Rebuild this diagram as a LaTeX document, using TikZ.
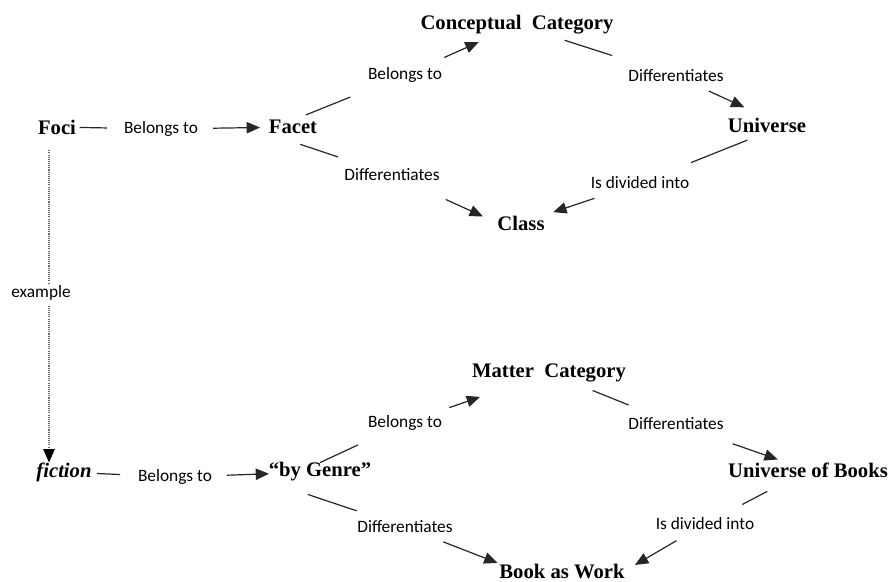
\documentclass[tikz,border=0pt]{standalone}
\usepackage{fontspec}
\setmainfont{Liberation Serif}
\newfontfamily\labfont{Carlito}
\usetikzlibrary{arrows.meta}

\begin{document}
\begin{tikzpicture}[x=0.75pt, y=-0.75pt,
        term/.style={font=\fontsize{15.5}{18}\selectfont\bfseries, inner sep=0pt, outer sep=0pt},
        rel/.style={font=\labfont\fontsize{13}{15}\selectfont, inner sep=0pt, outer sep=0pt},
        link/.style={line width=0.9pt, draw=black!85},
        tip/.style={link, -{Triangle[length=10pt,width=8.5pt]}},
        dots/.style={line width=0.8pt, draw=black!60, dash pattern=on 0.8pt off 0.8pt}]
        \useasboundingbox (0,0) rectangle (891,581);

        % Upper diagram.
        \node[term] (foci) at (57,127) {Foci};
        \node[term] (facet) at (293,127) {Facet};
        \node[term] (concept) at (517,25) {Conceptual\ \ Category};
        \node[term] (univ) at (767,125) {Universe};
        \node[term] (class) at (521,223) {Class};

        \node[rel] (bel1) at (161,129) {Belongs to};
        \node[rel] (bel2) at (405,75) {Belongs to};
        \node[rel] (diff1) at (676,76) {Differentiates};
        \node[rel] (diff2) at (392,175) {Differentiates};
        \node[rel] (div1) at (640,183) {Is divided into};

        \draw[link, shorten <=17pt, shorten >=40.5pt] (foci.center) -- (bel1.center);
        \draw[tip, shorten <=39pt, shorten >=24.75pt] (bel1.center) -- (facet.center);
        \draw[link, shorten <=10.5pt, shorten >=44.25pt] (facet.north) -- (bel2.center);
        \draw[tip, shorten <=32.25pt, shorten >=31.5pt] (bel2.center) -- (concept.center);
        \draw[link, shorten <=37.5pt, shorten >=50.25pt] (concept.center) -- (diff1.center);
        \draw[tip, shorten <=27pt, shorten >=18.75pt] (diff1.center) -- (univ.north);
        \draw[link, shorten <=15.75pt, shorten >=41.25pt] (univ.south) -- (div1.center);
        \draw[tip, shorten <=36pt, shorten >=25.5pt] (div1.center) -- (class.center);
        \draw[link, shorten <=24.75pt, shorten >=42.75pt] (facet.south west) -- (diff2.center);
        \draw[tip, shorten <=44.25pt, shorten >=12pt] (diff2.center) -- (class.west);

        % Example link.
        \node[rel] (ex) at (41,293) {example};
        \node[term, font=\fontsize{15.5}{18}\selectfont\bfseries\itshape] (fiction) at (64,472) {fiction};
        \draw[dots, shorten <=12pt, shorten >=1pt] ([xshift=-6pt]foci.south) -- ([xshift=-6pt]foci.south |- ex.north);
        \draw[dots, -{Triangle[length=10pt,width=8.5pt,color=black]}, shorten <=4pt] ([xshift=-6pt]foci.south |- ex.south) -- ([xshift=-6pt]foci.south |- fiction.north);

        % Lower diagram.
        \node[term] (genre) at (320,472) {``by Genre''};
        \node[term] (matter) at (549,373) {Matter\ \ Category};
        \node[term] (uob) at (808,470) {Universe of Books};
        \node[term] (baw) at (562,571) {Book as Work};

        \node[rel] (bel3) at (175,477) {Belongs to};
        \node[rel] (bel4) at (405,423) {Belongs to};
        \node[rel] (diff3) at (676,424) {Differentiates};
        \node[rel] (diff4) at (405,527) {Differentiates};
        \node[rel] (div2) at (705,524) {Is divided into};

        \draw[link, shorten <=24.75pt, shorten >=41.25pt] (fiction.center) -- (bel3.center);
        \draw[tip, shorten <=39pt, shorten >=38.25pt] (bel3.center) -- (genre.center);
        \draw[link, shorten >=39pt] (genre.north) -- (bel4.center);
        \draw[tip, shorten <=35.25pt, shorten >=54.75pt] (bel4.center) -- (matter.center);
        \draw[link, shorten <=35.25pt, shorten >=38.25pt] (matter.center) -- (diff3.center);
        \draw[tip, shorten <=45pt, shorten >=24pt] (diff3.center) -- (uob.center);
        \draw[link, shorten <=34.5pt, shorten >=31.5pt] (uob.center) -- (div2.center);
        \draw[tip, shorten <=24.75pt, shorten >=9pt] (div2.center) -- (baw.east);
        \draw[link, shorten <=30.75pt, shorten >=38.25pt] (genre.south west) -- (diff4.center);
        \draw[tip, shorten <=30.75pt, shorten >=1.5pt] (diff4.center) -- (baw.north west);
    \end{tikzpicture}
\end{document}
